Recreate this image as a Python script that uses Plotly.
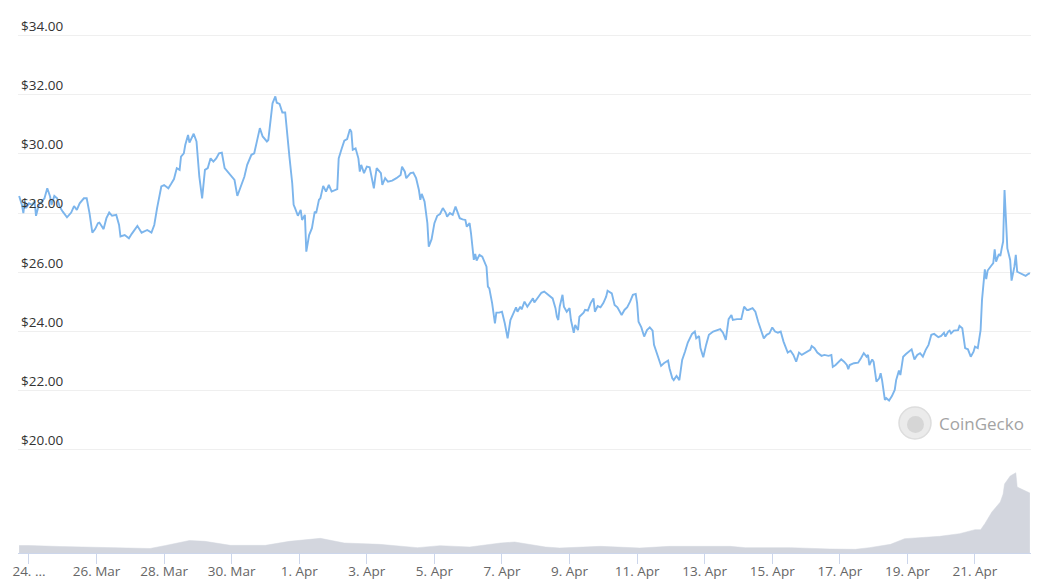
import pandas as pd
import plotly.graph_objects as go

# ---- data ----
base_date = "2023-03-24 00:00"

# price series: hours after base_date, price in USD
price_hours = [
    -7, -5, -4, -3, -2, 0, 2, 4, 5, 7,
    9, 11, 13, 15, 16, 18, 20, 22, 24, 27,
    30, 32, 34, 36, 39, 41, 43, 45, 47, 49,
    50, 53, 55, 57, 59, 62, 64, 65, 68, 71,
    73, 77, 80, 84, 87, 89, 91, 94, 96, 99,
    101, 103, 105, 107, 108, 110, 111, 113, 114, 116,
    117, 119, 120, 121, 123, 125, 127, 129, 131, 133,
    135, 137, 139, 142, 144, 146, 148, 151, 153, 155,
    158, 160, 162, 164, 166, 169, 170, 172, 173, 175,
    176, 178, 180, 182, 183, 185, 187, 188, 189, 191,
    193, 194, 196, 197, 199, 201, 203, 204, 206, 207,
    209, 211, 213, 215, 219, 220, 222, 224, 226, 228,
    229, 230, 232, 234, 235, 236, 238, 240, 242, 245,
    246, 247, 250, 251, 253, 255, 258, 261, 264, 265,
    267, 268, 271, 273, 275, 277, 278, 279, 281, 283,
    284, 286, 288, 290, 292, 294, 296, 297, 299, 301,
    303, 304, 306, 308, 310, 311, 313, 314, 316, 317,
    318, 320, 322, 325, 326, 327, 329, 331, 332, 334,
    336, 338, 340, 342, 344, 346, 347, 349, 350, 352,
    354, 356, 358, 359, 362, 364, 366, 368, 370, 372,
    374, 375, 376, 377, 379, 380, 382, 384, 385, 387,
    388, 390, 391, 394, 395, 397, 399, 401, 402, 404,
    406, 408, 410, 411, 414, 416, 418, 420, 421, 423,
    425, 427, 429, 431, 432, 433, 435, 437, 439, 441,
    443, 444, 447, 449, 451, 454, 455, 457, 458, 460,
    462, 464, 466, 468, 471, 473, 474, 476, 477, 479,
    481, 483, 486, 489, 491, 493, 495, 497, 499, 500,
    503, 506, 508, 510, 511, 514, 516, 518, 519, 520,
    522, 524, 526, 528, 530, 532, 534, 536, 538, 539,
    541, 543, 545, 547, 549, 552, 555, 556, 558, 560,
    563, 565, 568, 570, 571, 573, 575, 577, 579, 581,
    582, 583, 586, 589, 591, 593, 595, 596, 597, 599,
    600, 601, 602, 604, 605, 606, 608, 609, 611, 613,
    615, 616, 618, 619, 621, 623, 625, 627, 629, 631,
    633, 635, 637, 639, 641, 643, 646, 648, 650, 651,
    653, 654, 655, 657, 660, 661, 663, 664, 665, 667,
    669, 671, 672, 674, 676, 677, 678, 679, 680, 681,
    683, 685, 686, 687, 689, 690, 691, 692, 693, 694,
    695, 697, 698, 700, 701, 702, 705, 708, 710, 711,
]
prices = [
    28.58, 28.28, 28.00, 28.39, 28.17, 28.33, 28.28, 28.39, 27.91, 28.28,
    28.39, 28.50, 28.84, 28.56, 28.28, 28.58, 28.50, 28.20, 28.05, 27.86,
    28.02, 28.24, 28.11, 28.33, 28.50, 28.50, 28.00, 27.34, 27.46, 27.66,
    27.68, 27.46, 27.83, 28.02, 27.91, 27.94, 27.60, 27.21, 27.26, 27.15,
    27.30, 27.57, 27.34, 27.43, 27.34, 27.60, 28.17, 28.90, 28.95, 28.84,
    28.99, 29.15, 29.52, 29.46, 29.91, 30.02, 30.30, 30.64, 30.38, 30.56,
    30.68, 30.42, 29.74, 29.23, 28.50, 29.46, 29.52, 29.85, 29.74, 29.85,
    30.02, 30.04, 29.52, 29.35, 29.21, 29.12, 28.58, 29.01, 29.23, 29.63,
    29.97, 30.02, 30.42, 30.87, 30.59, 30.42, 30.47, 31.38, 31.71, 31.94,
    31.73, 31.69, 31.40, 31.40, 30.98, 29.91, 29.01, 28.28, 28.17, 27.91,
    28.11, 27.77, 27.94, 26.70, 27.26, 27.49, 28.05, 28.00, 28.45, 28.50,
    28.92, 28.73, 28.95, 28.73, 28.81, 29.85, 30.16, 30.45, 30.50, 30.83,
    30.75, 30.14, 30.19, 29.85, 29.40, 29.63, 29.35, 29.57, 29.55, 28.84,
    29.21, 29.52, 29.35, 28.95, 29.18, 29.06, 29.10, 29.18, 29.29, 29.57,
    29.40, 29.18, 29.35, 29.37, 29.18, 28.78, 28.45, 28.65, 28.39, 27.66,
    26.87, 27.12, 27.66, 27.91, 27.97, 28.17, 28.02, 27.88, 28.00, 27.94,
    28.22, 28.11, 27.83, 27.79, 27.77, 27.54, 27.66, 27.32, 26.42, 26.62,
    26.40, 26.59, 26.53, 26.19, 25.52, 25.46, 24.96, 24.28, 24.64, 24.64,
    24.67, 24.28, 23.77, 24.39, 24.59, 24.82, 24.67, 24.84, 24.75, 25.01,
    24.84, 24.96, 25.12, 24.98, 25.20, 25.31, 25.35, 25.27, 25.20, 25.12,
    24.79, 24.50, 24.39, 24.84, 25.24, 24.84, 24.67, 24.79, 24.39, 23.96,
    24.22, 24.05, 24.50, 24.64, 24.73, 24.71, 24.96, 25.12, 24.67, 24.86,
    24.82, 24.96, 25.18, 25.38, 25.29, 24.90, 24.82, 24.67, 24.56, 24.73,
    24.82, 25.01, 25.24, 25.27, 24.96, 24.33, 24.14, 23.83, 24.05, 24.14,
    24.03, 23.55, 23.13, 22.84, 22.93, 23.02, 22.76, 22.42, 22.36, 22.50,
    22.36, 23.04, 23.32, 23.63, 23.92, 24.00, 23.77, 23.85, 23.44, 23.13,
    23.55, 23.89, 24.00, 24.05, 24.08, 23.96, 23.72, 24.42, 24.56, 24.39,
    24.42, 24.42, 24.84, 24.73, 24.73, 24.79, 24.67, 24.33, 24.19, 24.00,
    23.77, 23.89, 23.94, 24.14, 24.00, 23.96, 24.00, 23.66, 23.38, 23.29,
    23.35, 23.21, 22.98, 23.29, 23.21, 23.29, 23.38, 23.51, 23.44, 23.29,
    23.18, 23.21, 23.18, 23.21, 22.81, 22.87, 22.98, 23.06, 22.98, 22.87,
    22.73, 22.87, 22.93, 22.95, 23.10, 23.27, 23.15, 23.21, 22.87, 23.06,
    22.98, 22.70, 22.31, 22.42, 22.59, 22.36, 21.69, 21.75, 21.67, 21.82,
    22.03, 22.36, 22.68, 22.53, 23.15, 23.24, 23.32, 23.40, 23.06, 23.21,
    23.27, 23.15, 23.38, 23.55, 23.89, 23.92, 23.81, 23.85, 23.96, 23.83,
    24.00, 24.03, 23.94, 24.03, 24.05, 24.19, 24.11, 23.66, 23.44, 23.40,
    23.15, 23.32, 23.49, 23.44, 24.05, 25.07, 25.52, 26.10, 25.77, 26.06,
    26.19, 26.31, 26.78, 26.36, 26.62, 26.55, 26.81, 27.04, 28.78, 27.77,
    26.81, 26.42, 25.72, 26.19, 26.59, 26.02, 25.95, 25.88, 25.95, 25.97,
]

# volume series (relative, estimated): hours after base_date, volume
vol_hours = [
    -7, 0, 22, 50, 72, 86, 97, 107, 114, 125,
    136, 143, 168, 185, 207, 224, 249, 276, 292, 313,
    335, 345, 367, 377, 406, 434, 455, 476, 498, 509,
    541, 569, 587, 597, 612, 622, 647, 661, 672, 676,
    679, 684, 690, 692, 693, 697, 701, 702, 706, 711,
]
volumes = [
    4.5, 4.5, 3.9, 3.3, 3.0, 2.7, 4.5, 6.0, 7.5, 7.0,
    5.4, 4.6, 4.6, 7.0, 8.8, 6.0, 5.2, 3.2, 4.4, 3.6,
    6.0, 6.6, 3.6, 3.0, 4.0, 3.0, 4.0, 4.0, 4.0, 3.2,
    3.2, 2.4, 2.2, 3.2, 5.2, 8.6, 10.0, 11.6, 14.0, 14.0,
    17.6, 24.6, 30.6, 35.4, 41.4, 46.2, 48.2, 39.6, 37.8, 36.0,
]

# axis ticks
price_ticks = [20, 22, 24, 26, 28, 30, 32, 34]
x_tick_dates = ["2023-03-24", "2023-03-26", "2023-03-28", "2023-03-30",
                "2023-04-01", "2023-04-03", "2023-04-05", "2023-04-07",
                "2023-04-09", "2023-04-11", "2023-04-13", "2023-04-15",
                "2023-04-17", "2023-04-19", "2023-04-21"]
x_tick_labels = ["24. ...", "26. Mar", "28. Mar", "30. Mar", "1. Apr",
                 "3. Apr", "5. Apr", "7. Apr", "9. Apr", "11. Apr",
                 "13. Apr", "15. Apr", "17. Apr", "19. Apr", "21. Apr"]
x_range_hours = [-7.8, 711.8]
price_range = [16.52, 35.03]
volume_range = [0, 329.0]

# ---- build ----
t0 = pd.Timestamp(base_date)
price_t = t0 + pd.to_timedelta(price_hours, unit="h")
vol_t = t0 + pd.to_timedelta(vol_hours, unit="h")
x_range = [t0 + pd.Timedelta(hours=h) for h in x_range_hours]

FONT = "Open Sans, Noto Sans, Arial, sans-serif"

fig = go.Figure()
fig.add_trace(go.Scatter(
    x=vol_t, y=volumes, yaxis="y2", mode="lines",
    line=dict(color="#d3d6de", width=0.5, shape="linear"),
    fill="tozeroy", fillcolor="#d3d6de", hoverinfo="skip",
    showlegend=False,
))
fig.add_trace(go.Scatter(
    x=price_t, y=prices, mode="lines",
    line=dict(color="#7cb5ec", width=1.9),
    showlegend=False,
))

PLOT_L, PLOT_R, PLOT_T, PLOT_B = 18, 19, 5, 32
plot_w = 1050 - PLOT_L - PLOT_R
plot_h = 585 - PLOT_T - PLOT_B

fig.update_layout(
    width=1050, height=585,
    margin=dict(l=PLOT_L, r=PLOT_R, t=PLOT_T, b=PLOT_B, autoexpand=False),
    paper_bgcolor="white", plot_bgcolor="white",
    font=dict(family=FONT),
    xaxis=dict(
        type="date", range=x_range, automargin=False,
        tickvals=pd.to_datetime(x_tick_dates), ticktext=x_tick_labels,
        ticklabeloverflow="allow", ticklabelstandoff=-4,
        showgrid=False, zeroline=False,
        showline=True, linecolor="#ccd6eb", linewidth=1,
        ticks="outside", ticklen=10, tickcolor="#ccd6eb", tickwidth=1,
        tickfont=dict(size=13.5, color="#666666", family=FONT),
    ),
    yaxis=dict(
        range=price_range, tickvals=price_ticks, automargin=False,
        tickformat="$.2f", ticklabelposition="inside top",
        ticklabeloverflow="allow",
        showgrid=True, gridcolor="#efefef", gridwidth=1,
        zeroline=False, showline=False, ticks="",
        tickfont=dict(size=13.5, color="#333333", family=FONT),
    ),
    yaxis2=dict(
        range=volume_range, overlaying="y", side="right", automargin=False,
        showgrid=False, zeroline=False, showticklabels=False,
        showline=False, ticks="",
    ),
)

# CoinGecko watermark
wx = (915 - PLOT_L) / plot_w
wy = (585 - PLOT_B - 423) / plot_h
fig.add_shape(type="circle", xref="paper", yref="paper",
              xsizemode="pixel", ysizemode="pixel",
              xanchor=wx, yanchor=wy,
              x0=-16, x1=16, y0=-16, y1=16,
              fillcolor="#ebebeb", line=dict(color="#dddddd", width=1.5),
              layer="above")
fig.add_shape(type="circle", xref="paper", yref="paper",
              xsizemode="pixel", ysizemode="pixel",
              xanchor=wx, yanchor=wy,
              x0=-8, x1=9, y0=-10, y1=7,
              fillcolor="#d6d6d6", line=dict(width=0),
              layer="above")
fig.add_annotation(text="CoinGecko", xref="paper", yref="paper",
                   x=(981 - PLOT_L) / plot_w, y=wy,
                   xanchor="center", yanchor="middle", showarrow=False,
                   font=dict(size=17, color="#a3a3a3", family=FONT))

fig.write_html(
    "out.html",
    config={"displayModeBar": False},
    post_script="document.body.style.margin='0';document.body.style.padding='0';",
)
